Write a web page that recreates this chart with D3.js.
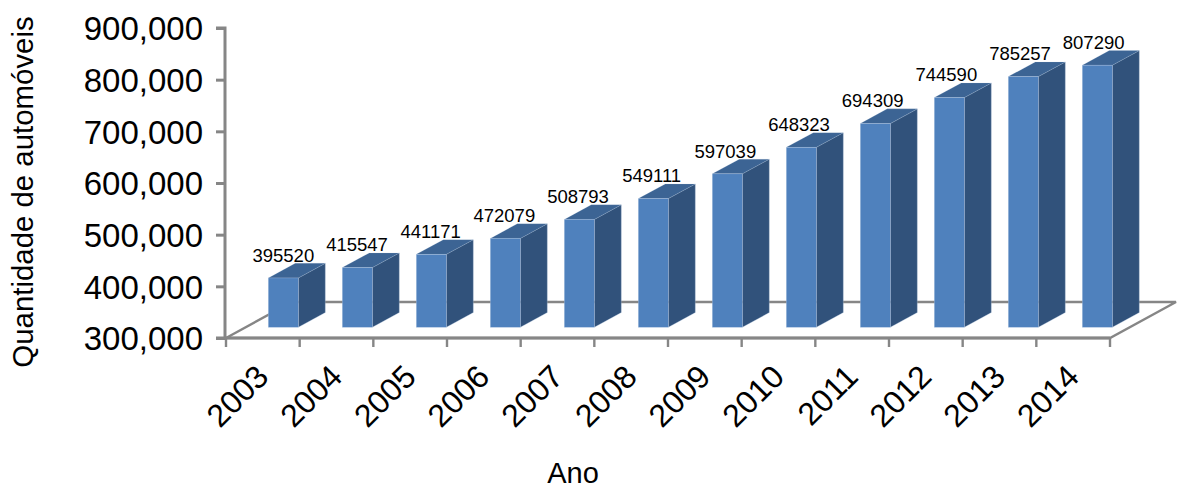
<!DOCTYPE html>
<html><head><meta charset="utf-8">
<script src="https://cdnjs.cloudflare.com/ajax/libs/d3/7.8.5/d3.min.js"></script>
<style>html,body{margin:0;padding:0;background:#fff;overflow:hidden}svg{display:block}text{font-family:"Liberation Sans",Arial,sans-serif;fill:#000}</style>
</head><body><svg id="c" width="1177" height="485"></svg>
<script>
const years=["2003","2004","2005","2006","2007","2008","2009","2010","2011","2012","2013","2014"];
const cars=[395520,415547,441171,472079,508793,549111,597039,648323,694309,744590,785257,807290];
const yTicks=[300000,400000,500000,600000,700000,800000,900000];
const yTitle="Quantidade de automóveis", xTitle="Ano";

const svg=d3.select("#c");
const axisColor="#868686", front="#4f81bd", side="#31527b", top_="#3c6494", edge="#b9cde5";
const x0=226,x1=1110,yBase=338,yTop=28;
const depthDx=66,depthDy=36;
const barDx=27,barDy=14.7,barW=30,barLift=10.7;

const x=d3.scaleBand().domain(years).range([x0,x1]);
const xBar=d3.scaleBand().domain(years).range([246.3,1134.3]);
const y=d3.scaleLinear().domain([300000,900000]).range([yBase,yTop]);

svg.append("polygon").attr("points",[[x0,yBase],[x1,yBase],[x1+depthDx,yBase-depthDy],[x0+depthDx,yBase-depthDy]].join(" "))
  .attr("fill","#fff").attr("stroke",axisColor).attr("stroke-width",2.4);

const rows=years.map((d,i)=>({year:d,v:cars[i]}));
const g=svg.append("g").selectAll("g").data(rows).join("g")
  .attr("transform",d=>`translate(${xBar(d.year)+xBar.bandwidth()/2-barW/2},0)`);
const yT=d=>y(d.v)-barLift, yB=y(300000)-barLift;
g.append("path").attr("fill",side).attr("stroke",edge).attr("stroke-width",.5).attr("stroke-opacity",.6)
  .attr("d",d=>`M${barW},${yT(d)}l${barDx},${-barDy}V${yB-barDy}L${barW},${yB}Z`);
g.append("path").attr("fill",top_).attr("stroke",edge).attr("stroke-width",.3).attr("stroke-opacity",.5)
  .attr("d",d=>`M0,${yT(d)}l${barDx},${-barDy}h${barW}l${-barDx},${barDy}Z`);
g.append("rect").attr("fill",front).attr("stroke",edge).attr("stroke-width",.5).attr("stroke-opacity",.6)
  .attr("x",0).attr("y",yT).attr("width",barW).attr("height",d=>yB-yT(d));
svg.append("g").selectAll("text").data(rows).join("text")
  .attr("x",d=>x(d.year)+x.bandwidth()/2+20.5).attr("y",d=>yT(d)-16.2).attr("text-anchor","middle")
  .attr("font-size",18.5).text(d=>d.v);

const ay=svg.append("g").attr("transform",`translate(${x0-1},0)`)
  .call(d3.axisLeft(y).tickValues(yTicks).tickFormat(d3.format(",")).tickSize(9).tickPadding(13));
ay.selectAll("path,line").attr("stroke",axisColor).attr("stroke-width",3);
ay.select("path").attr("d",`M-9,${yTop}H0V${yBase}H-9`);
ay.selectAll("text").attr("font-size",33).attr("dy","0.36em").attr("font-family",'"Liberation Sans",Arial,sans-serif').attr("fill","#000");

const edges=years.map(d=>x(d)).concat([x1]);
svg.append("g").selectAll("line").data(edges).join("line")
  .attr("x1",d=>d).attr("x2",d=>d).attr("y1",yBase).attr("y2",yBase+9)
  .attr("stroke",axisColor).attr("stroke-width",2.4);
svg.append("line").attr("x1",x0-2).attr("x2",x1).attr("y1",yBase).attr("y2",yBase).attr("stroke",axisColor).attr("stroke-width",3);
svg.append("g").selectAll("text").data(years).join("text")
  .attr("text-anchor","end").attr("font-size",32)
  .attr("transform",d=>`translate(${x(d)+x.bandwidth()/2-8},${yBase+25}) rotate(-45) translate(0,22)`)
  .text(d=>d);

svg.append("text").attr("transform","translate(33,192) rotate(-90)").attr("text-anchor","middle").attr("font-size",29.4).text(yTitle);
svg.append("text").attr("x",573).attr("y",483).attr("text-anchor","middle").attr("font-size",29).text(xTitle);
</script></body></html>
